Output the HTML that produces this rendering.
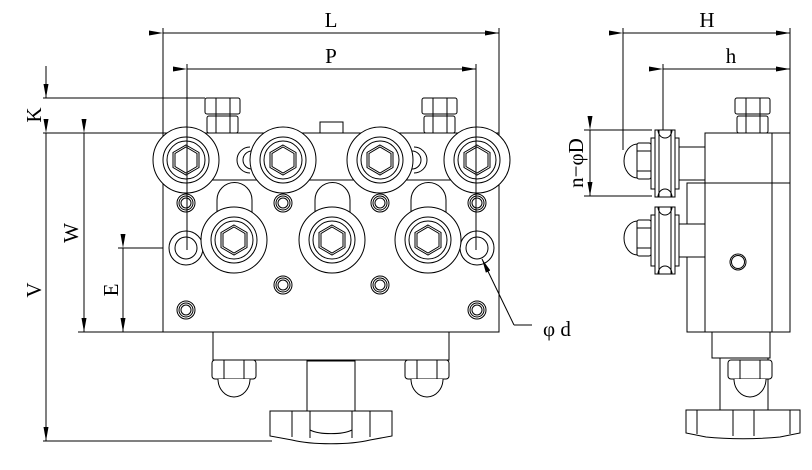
<!DOCTYPE html>
<html><head><meta charset="utf-8"><style>html,body{margin:0;padding:0;background:#fff}svg{display:block}</style></head>
<body>
<svg width="812" height="470" viewBox="0 0 812 470" xmlns="http://www.w3.org/2000/svg" font-family="'Liberation Serif',serif" font-size="21">
<defs>
<marker id="a" viewBox="0 0 14 5" refX="14" refY="2.5" markerWidth="14" markerHeight="5" orient="auto" markerUnits="userSpaceOnUse"><path d="M0,0 L14,2.5 L0,5z" fill="#000"/></marker>
<g id="roll"><circle r="33" fill="#fff" stroke="#000"/><circle r="23" fill="none" stroke="#000"/><circle r="19" fill="none" stroke="#000"/><polygon points="0,-15 13,-7.5 13,7.5 0,15 -13,7.5 -13,-7.5" fill="none" stroke="#000"/><polygon points="0,-13 11,-6.5 11,6.5 0,13 -11,6.5 -11,-6.5" fill="none" stroke="#000"/></g>
<g id="ring"><circle r="9" fill="#fff" stroke="#000"/><circle r="7" fill="none" stroke="#000"/><circle r="5" fill="none" stroke="#000"/></g>
<g id="bolt"><rect x="0" y="0" width="35" height="16" rx="2" fill="#fff" stroke="#000"/><rect x="2" y="18" width="31" height="17" rx="2" fill="#fff" stroke="#000"/><path d="M11,0V35M25,0V35" stroke="#000"/></g>
<g id="nut"><rect x="0" y="0" width="44" height="19" rx="3" fill="#fff" stroke="#000"/><path d="M12,0V19M32,0V19" stroke="#000"/><path d="M6,19 A16,18 0 0 0 38,19" fill="#fff" stroke="#000"/></g>
<g id="wh" stroke="#000" fill="#fff">
<path d="M638,144 a14,17 0 0 0 0,34Z"/>
<rect x="637" y="143" width="14" height="36" rx="2"/><path d="M637,151H651M637,171H651"/>
<rect x="677" y="147" width="28" height="33"/>
<rect x="651" y="138" width="28" height="51"/>
<rect x="655" y="130" width="20" height="67"/>
<path d="M659,130V197M671,130V197M655,130h3a7,8 0 0 0 14,0h3M655,197h3a7,8 0 0 1 14,0h3" fill="none"/>
</g>
</defs>
<g stroke="#000" stroke-width="1" fill="none">
<path d="M163,28V133M499,28V133M187,64V250M476,64V250M623,28V150M790,28V133M663,64V130"/>
<line x1="163" y1="33" x2="499" y2="33" marker-start="url(#a)" marker-end="url(#a)"/>
<line x1="187" y1="69" x2="476" y2="69" marker-start="url(#a)" marker-end="url(#a)"/>
<line x1="623" y1="33" x2="790" y2="33" marker-start="url(#a)" marker-end="url(#a)"/>
<line x1="663" y1="69" x2="790" y2="69" marker-start="url(#a)" marker-end="url(#a)"/>
<path d="M43,98H205M43,133H163M78,332H163M118,248H163M43,441H272"/>
<line x1="46" y1="66" x2="46" y2="98" marker-end="url(#a)"/>
<line x1="46" y1="133" x2="46" y2="441" marker-start="url(#a)" marker-end="url(#a)"/>
<line x1="84" y1="133" x2="84" y2="332" marker-start="url(#a)" marker-end="url(#a)"/>
<line x1="123" y1="248" x2="123" y2="332" marker-start="url(#a)" marker-end="url(#a)"/>
<path d="M584,130H652M584,196H652"/>
<line x1="590" y1="130" x2="590" y2="196" marker-start="url(#a)" marker-end="url(#a)"/>

<use href="#bolt" x="205" y="98"/><use href="#bolt" x="422" y="98"/>
<rect x="320" y="122" width="23" height="11" fill="#fff"/>
<rect x="163" y="133" width="336" height="199" fill="#fff"/>
<path d="M200,180H455"/>
<path d="M250,147 a13,13 0 0 0 0,26 M252,151 a9,9 0 0 0 0,18 M414,147 a13,13 0 0 1 0,26 M412,151 a9,9 0 0 1 0,18"/>
<path d="M217,215V200a17,17 0 0 1 35,0V215M315,215V200a17,17 0 0 1 35,0V215M411,215V200a17,17 0 0 1 35,0V215" fill="#fff"/>
<use href="#ring" x="186" y="203"/><use href="#ring" x="283" y="203"/><use href="#ring" x="380" y="203"/><use href="#ring" x="477" y="203"/>
<use href="#ring" x="283" y="285"/><use href="#ring" x="380" y="285"/><use href="#ring" x="186" y="310"/><use href="#ring" x="477" y="310"/>
<circle cx="186" cy="248" r="17" fill="#fff"/><circle cx="186" cy="248" r="11"/>
<circle cx="477" cy="248" r="17" fill="#fff"/><circle cx="477" cy="248" r="11"/>
<use href="#roll" x="186" y="160"/><use href="#roll" x="283" y="160"/><use href="#roll" x="380" y="160"/><use href="#roll" x="477" y="160"/>
<use href="#roll" x="234" y="240"/><use href="#roll" x="332" y="240"/><use href="#roll" x="428" y="240"/>
<path d="M187,64V250M476,64V250"/>
<path d="M514,325H532"/>
<line x1="514" y1="325" x2="482" y2="259" marker-end="url(#a)"/>
<rect x="213" y="332" width="236" height="28" fill="#fff"/>
<use href="#nut" x="212" y="360"/><use href="#nut" x="405" y="360"/>
<rect x="307" y="361" width="48" height="50" fill="#fff"/>
<path d="M270,411H392V436L370,440 A50,10 0 0 1 292,440 L270,436Z" fill="#fff"/>
<path d="M292,411V437M310,411V438M352,411V438M370,411V437"/>
<path d="M310,430 A25,8 0 0 0 352,430"/>

<use href="#bolt" x="735" y="98"/>
<rect x="705" y="133" width="85" height="50" fill="#fff"/>
<rect x="687" y="183" width="103" height="149" fill="#fff"/>
<path d="M705,183V332M772,133V332"/>
<circle cx="738" cy="262" r="8"/><circle cx="738" cy="262" r="6.5"/>
<use href="#wh"/>
<use href="#wh" y="77"/>
<rect x="712" y="332" width="58" height="26" fill="#fff"/>
<rect x="720" y="358" width="48" height="52" fill="#fff"/>
<use href="#nut" x="728" y="360"/>
<path d="M686,410H800V433L780,437 A60,8 0 0 1 706,437 L686,433Z" fill="#fff"/>
<path d="M697,410V434M733,410V436M754,410V436M790,410V434"/>
</g>
<g fill="#000" stroke="none">
<text x="331" y="27" text-anchor="middle">L</text>
<text x="331" y="63" text-anchor="middle">P</text>
<text x="707" y="27" text-anchor="middle">H</text>
<text x="731" y="63" text-anchor="middle">h</text>
<text transform="translate(41,115) rotate(-90)" text-anchor="middle">K</text>
<text transform="translate(41,290) rotate(-90)" text-anchor="middle">V</text>
<text transform="translate(78,233) rotate(-90)" text-anchor="middle">W</text>
<text transform="translate(118,290) rotate(-90)" text-anchor="middle">E</text>
<text transform="translate(583,163) rotate(-90)" text-anchor="middle">n−φD</text>
<text x="543" y="336">φ d</text>
</g>
</svg>
</body></html>
